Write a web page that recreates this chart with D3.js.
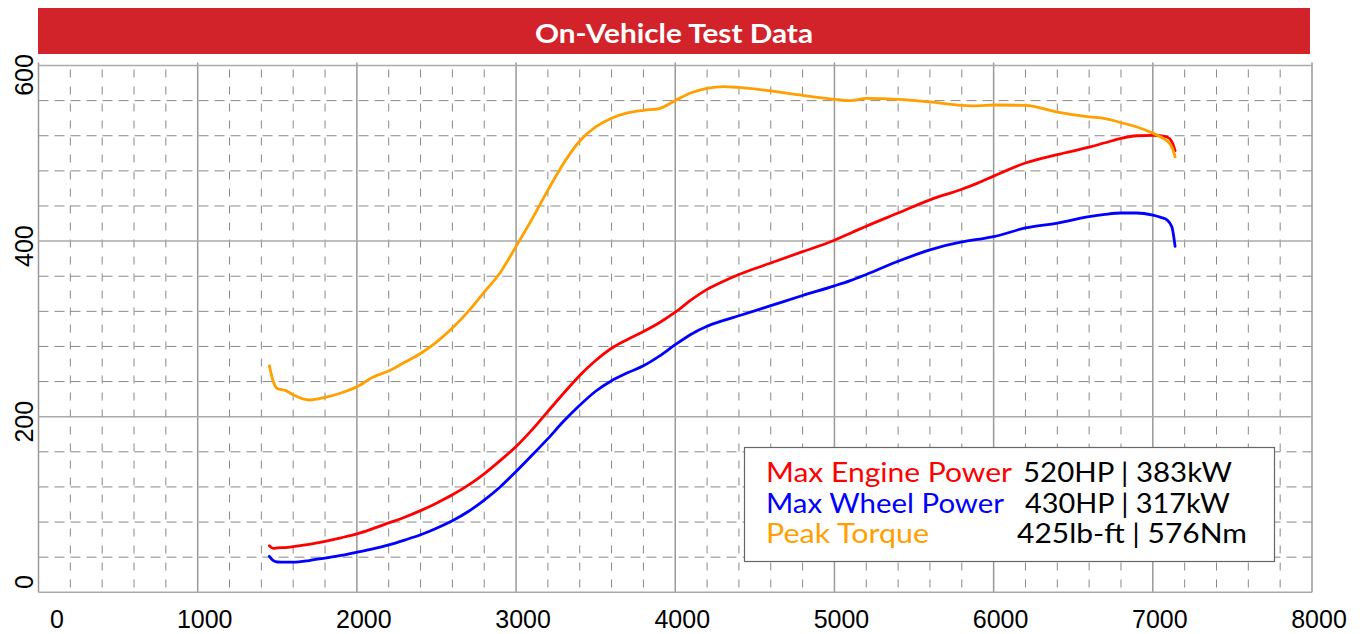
<!DOCTYPE html>
<html>
<head>
<meta charset="utf-8">
<script src="https://cdn.jsdelivr.net/npm/d3@7"></script>
<style>
    body { margin: 0; background: #fff; }
    #dyno { width: 1364px; height: 634px; }
    .axis-label { font-family: "Liberation Sans", Arial, sans-serif; font-size: 25px; fill: #000; }
    .legend-text { font-family: Lato, "Open Sans", sans-serif; font-size: 26px; }
</style>
</head>
<body>
<div id="dyno"></div>
<script>
(function(){

    // engine speed (rpm) the curves were read at
    const rpm = [1450, 1475, 1500, 1550, 1600, 1700, 1800, 1900, 2000, 2100, 2200, 2300, 2400, 2500,
        2600, 2700, 2800, 2900, 3000, 3100, 3200, 3300, 3400, 3500, 3600, 3700, 3800, 3900, 4000,
        4100, 4200, 4300, 4400, 4600, 4800, 5000, 5100, 5200, 5400, 5600, 5800, 5900, 6000, 6200,
        6400, 6600, 6700, 6800, 6900, 7000, 7050, 7090, 7120, 7140];

    // engine power (HP)
    const enginePower = [53, 50, 50.5, 51, 52, 54.5, 58, 62, 66.5, 72.5, 79, 85.5, 93, 101.5,
        111, 122, 135, 150, 166, 185, 206, 227, 247, 264, 278, 288, 297, 307, 319,
        333, 345, 354, 362, 375, 388, 401, 409, 417, 432, 447, 459, 466, 474, 489,
        498.5, 507, 512, 517, 520, 520.5, 520, 518.5, 513, 503];

    // wheel power (HP)
    const wheelPower = [41, 36, 34.5, 34.3, 34.4, 36.2, 39, 42, 45.7, 49.5, 54, 59.5, 65.5, 73,
        81.5, 92, 105, 120, 137.5, 156, 175, 195, 213, 229, 241, 250, 258, 269, 282,
        294, 303, 309.5, 315, 326.5, 338, 349, 355, 362, 377, 390, 399, 402, 405, 415,
        420.5, 428, 430.5, 432, 432, 429.5, 427, 424, 416, 394];

    // torque (Nm)
    const torque = [258, 240, 232, 230, 225, 219, 222, 227, 234, 245, 252, 262, 272, 285,
        301, 320, 342, 364, 394, 425, 458, 489, 514, 530, 540, 546, 549, 551, 560,
        569, 574, 576, 575, 571, 566, 561.5, 560, 562.5, 561.5, 558.5, 554.7, 554, 555, 554.5,
        547, 541.5, 539.5, 535, 530, 523, 518.5, 514, 507, 496];

    const xTicks = [0, 1000, 2000, 3000, 4000, 5000, 6000, 7000, 8000];
    const yTicks = [0, 200, 400, 600];

    const title = "On-Vehicle Test Data";
    const legendNames = ["Max Engine Power", "Max Wheel Power", "Peak Torque"];
    const legendValues = ["520HP | 383kW", "430HP | 317kW", "425lb-ft | 576Nm"];
    const colors = ["#ff0000", "#0000ff", "#ffa000"];

    // legend text layout (widths matched to the original's wider typeface)
    const nameWidths = [246, 238, 163];
    const valueX = [1023, 1025, 1017];
    const valueWidths = [209, 205, 230];

    const width = 1364, height = 634;
    const margin = { top: 65.5, right: 52, bottom: 41.7, left: 38.5 };

    const svg = d3.select("#dyno")
        .append("svg")
        .attr("width", width)
        .attr("height", height);

    const x = d3.scaleLinear().domain([0, 8000]).range([margin.left, width - margin.right]);
    const y = d3.scaleLinear().domain([0, 600]).range([height - margin.bottom, margin.top]);

    // title bar
    svg.append("rect")
        .attr("x", 38).attr("y", 8)
        .attr("width", 1272).attr("height", 46)
        .attr("fill", "#d2232a");
    svg.append("text")
        .attr("x", 535).attr("y", 43)
        .attr("fill", "#fff")
        .attr("textLength", 278)
        .attr("lengthAdjust", "spacingAndGlyphs")
        .style("font-family", "Lato, sans-serif")
        .style("font-size", "27px")
        .style("font-weight", 700)
        .text(title);

    // minor dashed grid
    const grid = svg.append("g");
    grid.selectAll(".vminor")
        .data(d3.range(0, 8001, 200).filter(v => v % 1000 !== 0))
        .enter().append("line")
        .attr("x1", d => x(d)).attr("x2", d => x(d))
        .attr("y1", y(600)).attr("y2", y(0))
        .attr("stroke", "#888").attr("stroke-width", 1)
        .attr("stroke-dasharray", "8,9")
        .attr("stroke-dashoffset", -4);
    grid.selectAll(".hminor")
        .data(d3.range(0, 601, 40).filter(v => v % 200 !== 0))
        .enter().append("line")
        .attr("x1", x(0)).attr("x2", x(8000))
        .attr("y1", d => y(d)).attr("y2", d => y(d))
        .attr("stroke", "#888").attr("stroke-width", 1)
        .attr("stroke-dasharray", "10,6");

    // major grid
    grid.selectAll(".vmajor")
        .data(xTicks)
        .enter().append("line")
        .attr("x1", d => x(d)).attr("x2", d => x(d))
        .attr("y1", y(600) - 3).attr("y2", y(0))
        .attr("stroke", "#999").attr("stroke-width", 1.5);
    grid.selectAll(".hmajor")
        .data(yTicks)
        .enter().append("line")
        .attr("x1", x(0)).attr("x2", x(8000))
        .attr("y1", d => y(d)).attr("y2", d => y(d))
        .attr("stroke", "#aaa").attr("stroke-width", 1.5);

    // tick labels
    svg.selectAll(".xlab")
        .data(xTicks)
        .enter().append("text")
        .attr("class", "axis-label")
        .attr("x", d => Math.max(x(d) + 7, 57))
        .attr("y", 628)
        .attr("text-anchor", "middle")
        .text(d => d);
    svg.selectAll(".ylab")
        .data(yTicks)
        .enter().append("text")
        .attr("class", "axis-label")
        .attr("text-anchor", "middle")
        .attr("transform", d => `translate(33,${Math.min(Math.max(y(d) + 5, 75), 582)}) rotate(-90)`)
        .text(d => d);

    // curves
    const series = [enginePower, wheelPower, torque];
    const line = d3.line()
        .x((d, i) => x(rpm[i]))
        .y(d => y(d))
        .curve(d3.curveMonotoneX);

    svg.append("g")
        .selectAll("path")
        .data(series)
        .enter().append("path")
        .attr("d", d => line(d))
        .attr("fill", "none")
        .attr("stroke", (d, i) => colors[i])
        .attr("stroke-width", 2.8)
        .attr("stroke-linejoin", "round")
        .attr("stroke-linecap", "round");

    // legend box
    const legend = svg.append("g");
    legend.append("rect")
        .attr("x", 744.5).attr("y", 447.5)
        .attr("width", 530).attr("height", 114)
        .attr("fill", "#fff")
        .attr("stroke", "#666").attr("stroke-width", 1.2);

    legendNames.forEach((name, i) => {
        const by = 482 + i * 30.7;
        legend.append("text")
            .attr("class", "legend-text")
            .attr("x", 766).attr("y", by)
            .attr("fill", colors[i])
            .attr("textLength", nameWidths[i])
            .attr("lengthAdjust", "spacingAndGlyphs")
            .text(name);
        legend.append("text")
            .attr("class", "legend-text")
            .attr("x", valueX[i]).attr("y", by)
            .attr("fill", "#000")
            .attr("textLength", valueWidths[i])
            .attr("lengthAdjust", "spacingAndGlyphs")
            .text(legendValues[i]);
    });

})();
</script>
</body>
</html>
